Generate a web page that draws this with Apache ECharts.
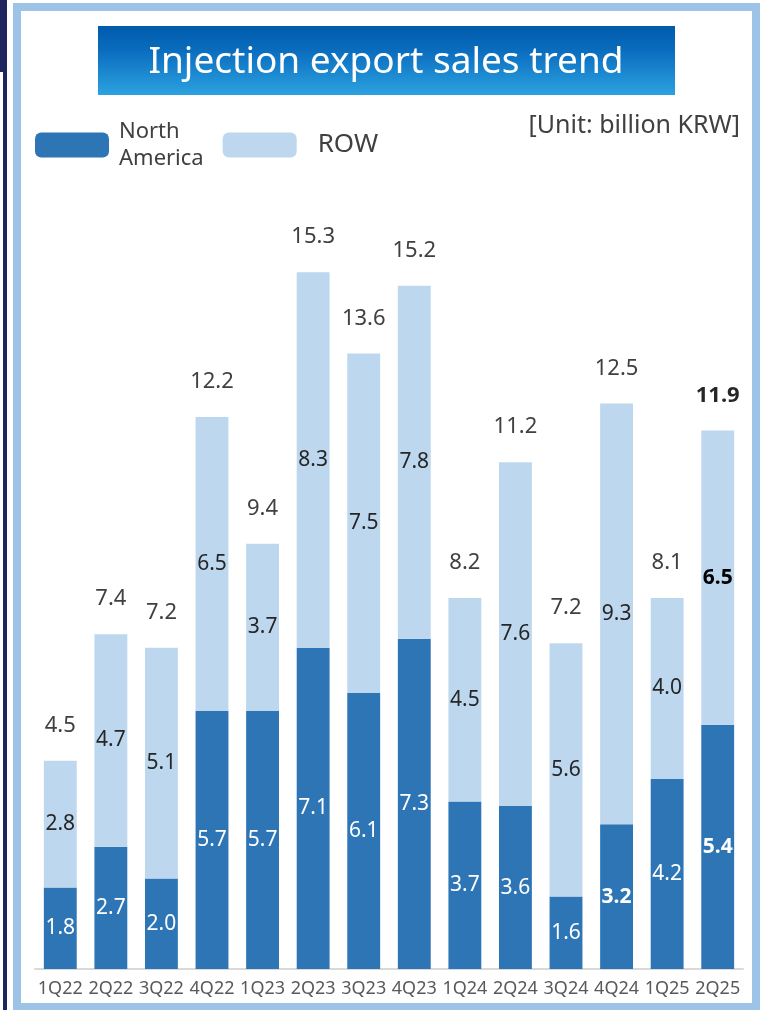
<!DOCTYPE html>
<html><head><meta charset="utf-8">
<script src="https://cdn.jsdelivr.net/npm/echarts@6/dist/echarts.min.js"></script>
<style>html,body{margin:0;padding:0;background:#fff}#c{width:761px;height:1010px}</style>
</head><body><div id="c"></div>
<script>
const categories = ['1Q22','2Q22','3Q22','4Q22','1Q23','2Q23','3Q23','4Q23','1Q24','2Q24','3Q24','4Q24','1Q25','2Q25'];
const northAmerica = [1.8,2.7,2.0,5.7,5.7,7.1,6.1,7.3,3.7,3.6,1.6,3.2,4.2,5.4];
const row = [2.8,4.7,5.1,6.5,3.7,8.3,7.5,7.8,4.5,7.6,5.6,9.3,4.0,6.5];
const totals = [4.5,7.4,7.2,12.2,9.4,15.3,13.6,15.2,8.2,11.2,7.2,12.5,8.1,11.9];
const boldNA = [11,13];
const boldROW = [13];
const boldTotal = [13];

const FONT = '"Noto Sans", sans-serif';
const chart = echarts.init(document.getElementById('c'));
const fmt = p => Number(p.value).toFixed(1);
const naData = northAmerica.map((v,i)=>({value:v,label:{fontWeight: boldNA.includes(i)?'bold':'normal'}}));
const rowData = row.map((v,i)=>({value:v,label:{fontWeight: boldROW.includes(i)?'bold':'normal', color: boldROW.includes(i)?'#000':'#262626'}}));
const totData = totals.map((v,i)=>({value:0,label:{fontWeight: boldTotal.includes(i)?'bold':'normal', color: boldTotal.includes(i)?'#262626':'#404040'}}));

chart.setOption({
  animation:false,
  textStyle:{fontFamily:FONT},
  graphic:[
    {type:'rect',shape:{x:0,y:0,width:7,height:72},style:{fill:'#1F255E'}},
    {type:'rect',shape:{x:3,y:72,width:4,height:940},style:{fill:'#1F255E'}},
    {type:'rect',shape:{x:17,y:7,width:739,height:1000},style:{fill:'none',stroke:'#9DC3E6',lineWidth:8}},
    {type:'rect',shape:{x:98,y:26,width:577,height:69},
      style:{fill:new echarts.graphic.LinearGradient(0,0,0,1,[{offset:0,color:'#005BAC'},{offset:0.35,color:'#0A6CBE'},{offset:1,color:'#2CA2E0'}])}},
    {type:'text',x:386,y:62,style:{text:'Injection export sales trend',fill:'#fff',font:'37px '+FONT,textAlign:'center',textVerticalAlign:'middle'}},
    {type:'text',x:740,y:126,style:{text:'[Unit: billion KRW]',fill:'#404040',font:'25px '+FONT,textAlign:'right',textVerticalAlign:'middle'}}
  ],
  legend:{
    left:35, top:113, padding:0, itemWidth:74, itemHeight:25, itemGap:19, icon:'roundRect',
    data:[
      {name:'North America',textStyle:{fontSize:22,color:'#404040',lineHeight:27,padding:[10,0,0,5]}},
      {name:'ROW',textStyle:{fontSize:26,color:'#404040',padding:[0,0,0,16]}}
    ],
    formatter:n=>n==='North America'?'North\nAmerica':n,
    selectedMode:false
  },
  grid:{left:35,right:18,top:245,bottom:41},
  xAxis:{type:'category',data:categories,
    axisLine:{lineStyle:{color:'#D9D9D9',width:2}},axisTick:{show:false},
    axisLabel:{color:'#595959',fontSize:18,margin:11,interval:0}},
  yAxis:{type:'value',min:0,max:16,show:false,splitLine:{show:false}},
  series:[
    {name:'North America',type:'bar',stack:'s',barCategoryGap:'35%',data:naData,
      itemStyle:{color:'#2E75B6'},
      label:{show:true,position:'inside',color:'#fff',fontSize:21,formatter:fmt}},
    {name:'ROW',type:'bar',stack:'s',data:rowData,
      itemStyle:{color:'#BDD7EE'},
      label:{show:true,position:'inside',fontSize:21,formatter:fmt}},
    {name:'Total',type:'bar',stack:'s',data:totData,itemStyle:{color:'transparent'},
      label:{show:true,position:'top',distance:24,fontSize:22,formatter:p=>totals[p.dataIndex].toFixed(1)}}
  ]
});
</script></body></html>
